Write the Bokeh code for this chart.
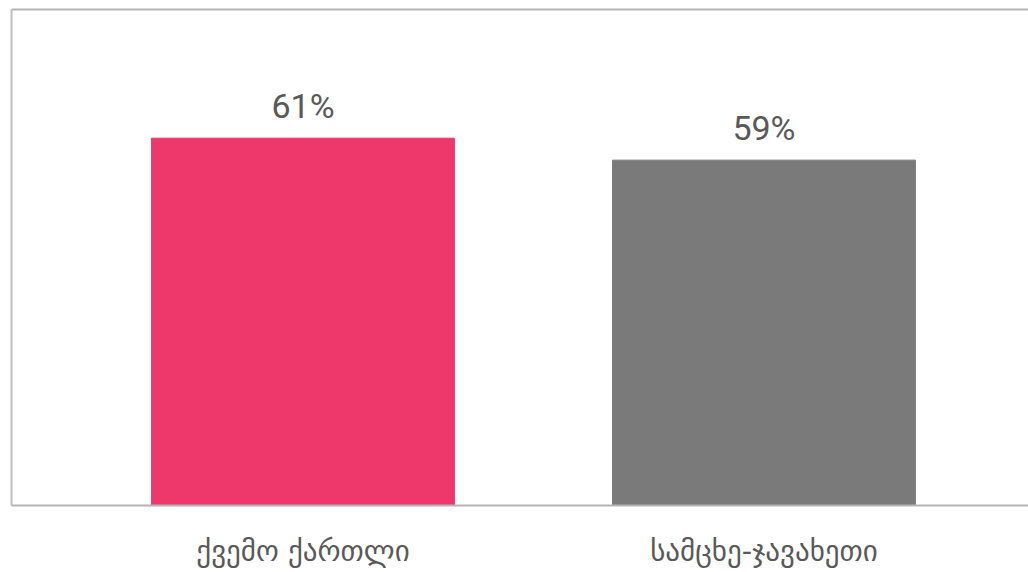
from bokeh.plotting import figure
from bokeh.models import ColumnDataSource, FixedTicker, LinearAxis, Range1d, LabelSet
from bokeh.core.properties import value
from bokeh.embed import file_html
from bokeh.resources import INLINE

categories = ["ქვემო ქართლი", "სამცხე-ჯავახეთი"]
values = [61, 59]
value_labels = ["61%", "59%"]
colors = ["#EE376A", "#7A7A7A"]
positions = [0, 1]

src = ColumnDataSource(dict(x=positions, top=values, label=value_labels, color=colors))

p = figure(width=1028, height=572, output_backend="svg", toolbar_location=None,
           x_range=Range1d(-0.6323, 1.5738), y_range=Range1d(27.6, 72.7),
           min_border_left=11, min_border_top=9, min_border_right=0, min_border_bottom=67)
p.outline_line_color = None
p.grid.visible = False
p.background_fill_color = "white"
p.border_fill_color = "white"

p.vbar(x="x", top="top", bottom=0, width=0.657, color="color", source=src)

labels = LabelSet(x="x", y="top", text="label", source=src, text_align="center",
                  text_baseline="alphabetic", y_offset=20, text_font=value("Roboto"),
                  text_font_size=value("34px"), text_color=value("#595959"))
p.add_layout(labels)

xa = p.xaxis[0]
xa.ticker = FixedTicker(ticks=positions)
xa.major_label_overrides = {pos: c for pos, c in zip(positions, categories)}
xa.major_tick_line_color = None
xa.minor_tick_line_color = None
xa.major_tick_out = 0
xa.major_tick_in = 0
xa.axis_line_color = "#B4B4B8"
xa.axis_line_width = 2
xa.major_label_standoff = 28
xa.major_label_text_font = "DejaVu Sans"
xa.major_label_text_font_size = "29px"
xa.major_label_text_color = "#595959"

ya = p.yaxis[0]
ya.ticker = FixedTicker(ticks=[])
ya.major_tick_out = 0
ya.major_tick_in = 0
ya.minor_tick_out = 0
ya.minor_tick_in = 0
ya.major_label_standoff = 0
ya.axis_line_color = "#BDBDBD"
ya.axis_line_width = 2

top_axis = LinearAxis(ticker=FixedTicker(ticks=[]), major_tick_out=0, major_tick_in=0,
                      minor_tick_out=0, minor_tick_in=0, major_label_standoff=0,
                      axis_line_color="#B3B3B3", axis_line_width=2)
p.add_layout(top_axis, "above")

open("out.html", "w").write(file_html(p, INLINE))
